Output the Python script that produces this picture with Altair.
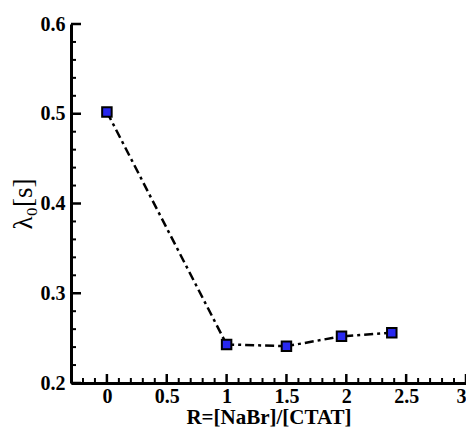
import altair as alt
import pandas as pd

# data
r_vals = [0.0, 1.0, 1.5, 1.96, 2.38]
lam_vals = [0.502, 0.243, 0.241, 0.252, 0.256]

x_major = [0, 0.5, 1, 1.5, 2, 2.5, 3]
x_minor = [-0.2, -0.1, 0.1, 0.2, 0.3, 0.4, 0.6, 0.7, 0.8, 0.9,
           1.1, 1.2, 1.3, 1.4, 1.6, 1.7, 1.8, 1.9,
           2.1, 2.2, 2.3, 2.4, 2.6, 2.7, 2.8, 2.9]
y_major = [0.2, 0.3, 0.4, 0.5, 0.6]
y_minor = [0.22, 0.24, 0.26, 0.28, 0.32, 0.34, 0.36, 0.38,
           0.42, 0.44, 0.46, 0.48, 0.52, 0.54, 0.56, 0.58]

W, H = 395, 359
FONT = "Liberation Serif"

df = pd.DataFrame({"R": r_vals, "lam": lam_vals})

xscale = alt.Scale(domain=[-0.3, 3], nice=False, zero=False)
yscale = alt.Scale(domain=[0.2, 0.6], nice=False, zero=False)

xaxis = alt.Axis(values=x_major, format="~g", ticks=False, grid=False,
                 domainColor="black", domainWidth=3,
                 labelFont=FONT, labelFontWeight="bold", labelFontSize=20,
                 labelColor="black", labelPadding=3,
                 title="R=[NaBr]/[CTAT]", titleFont=FONT, titleFontWeight="bold",
                 titleFontSize=21, titleColor="black", titlePadding=0)
yaxis = alt.Axis(values=y_major, format=".1f", ticks=False, grid=False,
                 domainColor="black", domainWidth=3,
                 labelFont=FONT, labelFontWeight="bold", labelFontSize=20,
                 labelColor="black", labelPadding=6,
                 title="λ₀[s]", titleFont=FONT, titleFontWeight="normal",
                 titleFontSize=27, titleColor="black", titlePadding=3)

line = alt.Chart(df).mark_line(color="black", strokeWidth=2.5,
                               strokeDash=[9, 4, 3, 4]).encode(
    x=alt.X("R:Q", scale=xscale, axis=xaxis),
    y=alt.Y("lam:Q", scale=yscale, axis=yaxis),
)
pts = alt.Chart(df).mark_point(shape="square", size=90, filled=True,
                               fill="#2828f0", stroke="black", strokeWidth=2,
                               opacity=1).encode(
    x=alt.X("R:Q", scale=xscale),
    y=alt.Y("lam:Q", scale=yscale),
)

xM = alt.Chart(pd.DataFrame({"v": x_major})).mark_rule(color="black", strokeWidth=2.5).encode(
    x=alt.X("v:Q", scale=xscale), y=alt.value(H), y2=alt.value(H - 9))
xm = alt.Chart(pd.DataFrame({"v": x_minor})).mark_rule(color="black", strokeWidth=2).encode(
    x=alt.X("v:Q", scale=xscale), y=alt.value(H), y2=alt.value(H - 5))
yM = alt.Chart(pd.DataFrame({"v": y_major})).mark_rule(color="black", strokeWidth=2.5).encode(
    y=alt.Y("v:Q", scale=yscale), x=alt.value(0), x2=alt.value(10))
ym = alt.Chart(pd.DataFrame({"v": y_minor})).mark_rule(color="black", strokeWidth=2).encode(
    y=alt.Y("v:Q", scale=yscale), x=alt.value(0), x2=alt.value(5))

chart = alt.layer(xM, xm, yM, ym, line, pts).properties(
    width=W, height=H,
    padding={"left": 63, "top": 16, "right": 0, "bottom": 49},
    autosize=alt.AutoSizeParams(type="none"),
).configure_view(stroke=None)

chart.save("out.html", embed_options={"renderer": "svg", "actions": False})
